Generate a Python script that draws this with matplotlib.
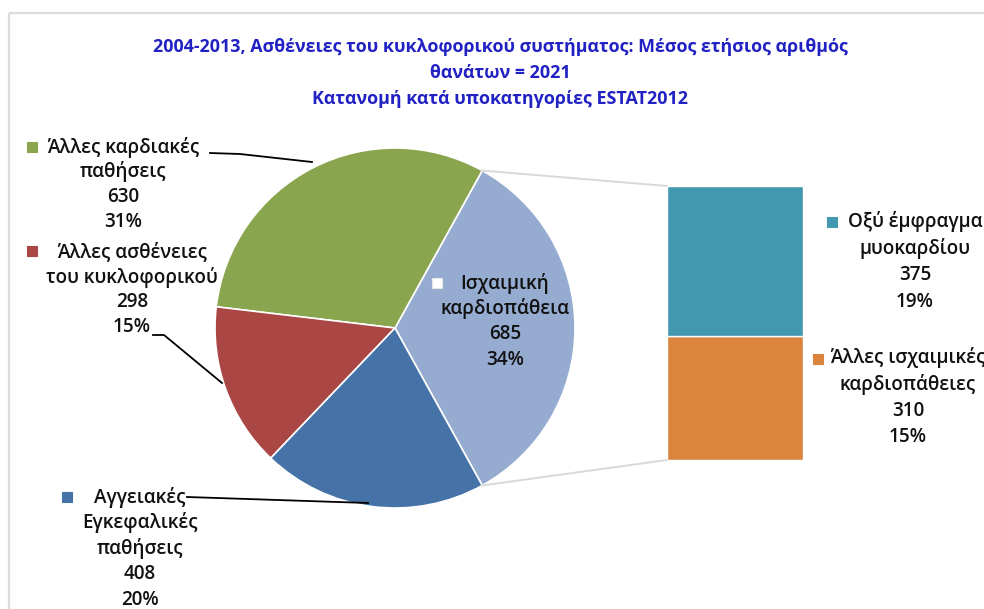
import matplotlib
matplotlib.use("Agg")
import matplotlib.pyplot as plt
import numpy as np

plt.rcParams['font.family'] = ['Open Sans', 'DejaVu Sans']

# ---- data ----
title_lines = ["2004-2013, Ασθένειες του κυκλοφορικού συστήματος: Μέσος ετήσιος αριθμός",
               "θανάτων = 2021",
               "Κατανομή κατά υποκατηγορίες ESTAT2012"]
pie_labels = ["Ισχαιμική\nκαρδιοπάθεια", "Άλλες καρδιακές\nπαθήσεις",
              "Άλλες ασθένειες\nτου κυκλοφορικού", "Αγγειακές\nΕγκεφαλικές\nπαθήσεις"]
pie_values = [685, 630, 298, 408]
pie_colors = ["#95ABD0", "#89A54E", "#AA4643", "#4572A7"]
bar_labels = ["Άλλες ισχαιμικές\nκαρδιοπάθειες", "Οξύ έμφραγμα\nμυοκαρδίου"]
bar_values = [310, 375]
bar_colors = ["#DB843D", "#4198AF"]
total = sum(pie_values)

W, H = 984, 609
def Y(y):
    return H - y

fig = plt.figure(figsize=(W / 100, H / 100), dpi=100)
ax = fig.add_axes([0, 0, 1, 1])

cx, cy, r = 395, 328, 180
start = -0.5 * pie_values[0] / total * 360
ax.pie(pie_values, colors=pie_colors, startangle=start, counterclock=True,
       center=(cx, Y(cy)), radius=r,
       wedgeprops=dict(edgecolor='white', linewidth=1.2))
ax.set_xlim(0, W)
ax.set_ylim(0, H)
ax.set_aspect('auto')
ax.axis('off')

# frame
ax.plot([9, W], [Y(12.5), Y(12.5)], color='#dcdcdc', lw=1.6, solid_capstyle='butt')
ax.plot([9, 9], [Y(12.5), 0], color='#dcdcdc', lw=1.6, solid_capstyle='butt')

# title
tcol = '#2121C4'
for i, t in enumerate(title_lines):
    ax.text(500, Y(47 + 26 * i), t, ha='center', va='center', color=tcol,
            fontsize=12.9, fontweight='bold')

# bar of pie
bx0, by0, bw, bh = 667, 186, 136, 274
bax = fig.add_axes([bx0 / W, Y(by0 + bh) / H, bw / W, bh / H])
bottom = 0
for v, c in zip(bar_values, bar_colors):
    bax.bar(0, v, width=1, bottom=bottom, color=c, edgecolor='white', linewidth=1)
    bottom += v
bax.set_xlim(-0.5, 0.5)
bax.set_ylim(0, sum(bar_values))
bax.axis('off')

# connector lines
a = np.deg2rad(-start)
ax.plot([cx + r * np.cos(a), bx0], [Y(cy) + r * np.sin(a), Y(by0)], color='#d9d9d9', lw=1.4)
ax.plot([cx + r * np.cos(a), bx0], [Y(cy) - r * np.sin(a), Y(by0 + bh)], color='#d9d9d9', lw=1.4)

tc = '#111111'
fs = 13.6

def label(name, val, x, y0, pitch, mk, color, mkedge=None):
    lines = name.split('\n') + [f"{val}", f"{round(100 * val / total)}%"]
    for i, ln in enumerate(lines):
        ax.text(x, Y(y0 + pitch * i), ln, ha='center', va='center', color=tc,
                fontsize=fs, fontweight='semibold')
    ax.plot(mk[0], Y(mk[1]), marker='s', ms=7, color=color,
            markeredgecolor=mkedge if mkedge else color, markeredgewidth=0.8)

# pie labels
label(pie_labels[1], pie_values[1], 123, 147, 25, (32, 147), pie_colors[1])
label(pie_labels[2], pie_values[2], 132, 252, 25, (32, 251), pie_colors[2])
label(pie_labels[3], pie_values[3], 140, 497, 25.7, (67, 497), pie_colors[3])
label(pie_labels[0], pie_values[0], 505, 283, 25.7, (437, 283), 'white', '#e6e6e6')
# bar labels
label(bar_labels[1], bar_values[1], 915, 222, 26.7, (832, 222), bar_colors[1])
label(bar_labels[0], bar_values[0], 908, 358, 26.4, (818, 359), bar_colors[0])

# leader lines
lk = dict(color='black', lw=1.3)
ax.plot([210, 240, 312], [Y(153), Y(154), Y(162)], **lk)
ax.plot([153, 164, 222], [Y(335), Y(335), Y(383)], **lk)
ax.plot([187, 368], [Y(497), Y(503)], **lk)

fig.savefig('out.png', dpi=100)
